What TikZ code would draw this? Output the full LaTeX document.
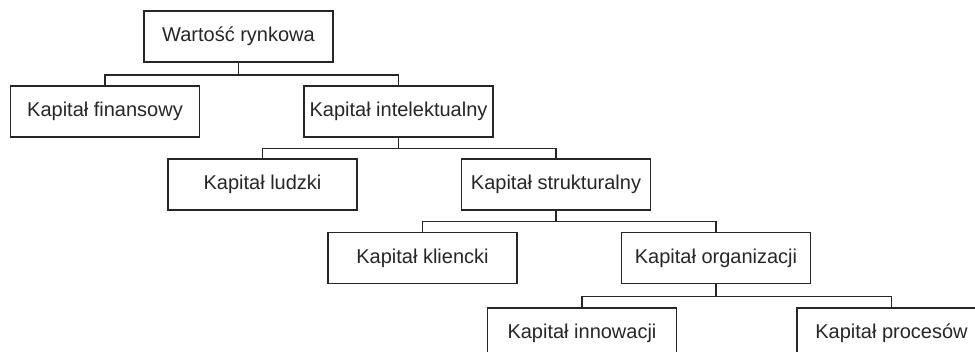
\documentclass[tikz,border=0pt]{standalone}
\usepackage{fontspec}
\setmainfont{Liberation Sans}
\begin{document}
\begin{tikzpicture}[x=0.75pt,y=-0.75pt,
  box/.style={draw=black!85,line width=0.9pt,minimum width=141.75pt,minimum height=38.25pt,inner sep=0pt,
    font=\fontsize{15}{18}\selectfont,text=black!85},
  link/.style={draw=black!85,line width=0.9pt}]
\useasboundingbox (0,0) rectangle (975,352);
\clip (0,0) rectangle (975,352);
\node[box] (W) at (238.5,36.5) {Wartość rynkowa};
\node[box] (F) at (105,111.5) {Kapitał finansowy};
\node[box] (I) at (398.5,111.5) {Kapitał intelektualny};
\node[box] (L) at (262.5,184.5) {Kapitał ludzki};
\node[box] (S) at (556,184.5) {Kapitał strukturalny};
\node[box] (K) at (422.5,258) {Kapitał kliencki};
\node[box] (O) at (716,258) {Kapitał organizacji};
\node[box] (N) at (582,333.5) {Kapitał innowacji};
\node[box] (P) at (891.5,333.5) {Kapitał procesów};
\draw[link] (W.south) -- ++(0,12.5) coordinate (w1) -| (F.north);
\draw[link] (w1) -| (I.north);
\draw[link] (I.south) -- ++(0,11) coordinate (i1) -| (L.north);
\draw[link] (i1) -| (S.north);
\draw[link] (S.south) -- ++(0,11) coordinate (s1) -| (K.north);
\draw[link] (s1) -| (O.north);
\draw[link] (O.south) -- ++(0,12.5) coordinate (o1) -| (N.north);
\draw[link] (o1) -| (P.north);
\end{tikzpicture}
\end{document}
